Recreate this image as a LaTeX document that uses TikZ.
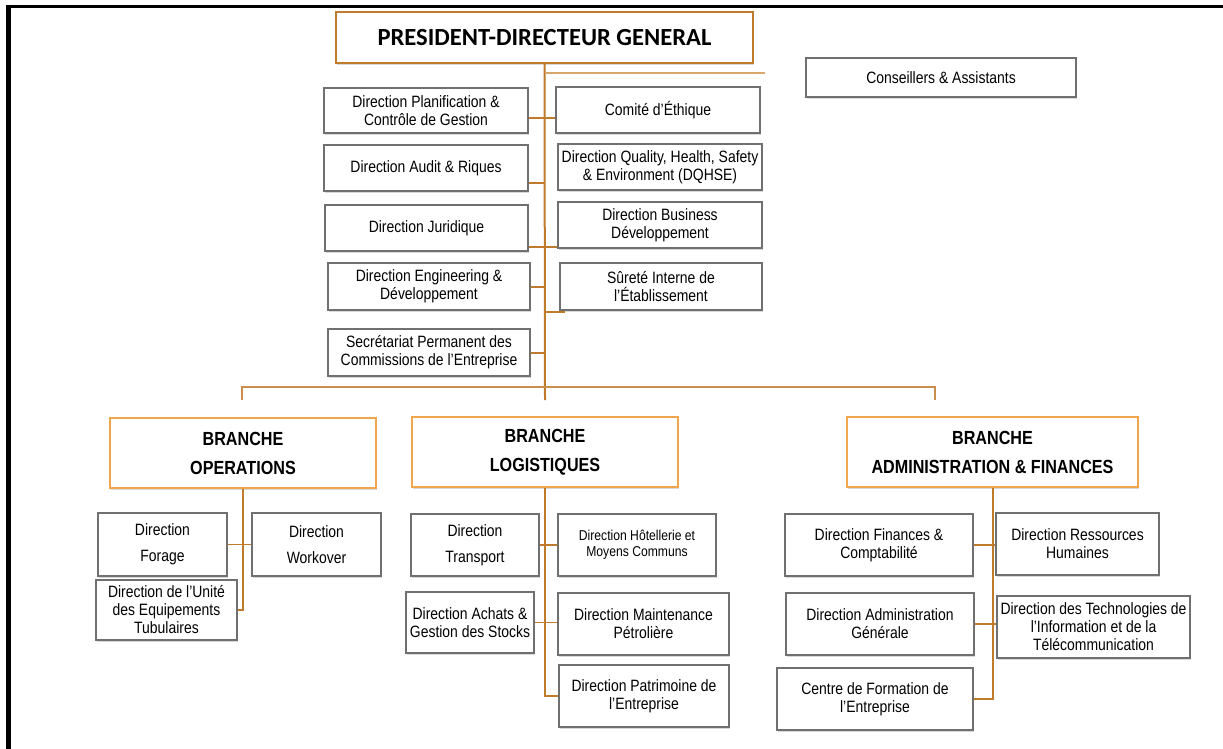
\documentclass[tikz,border=0pt]{standalone}
\usepackage{fontspec}
\setmainfont{Liberation Sans}[FakeStretch=0.85]
\newfontfamily\titlefont{Carlito}
\usetikzlibrary{shadows}
\definecolor{trunkor}{HTML}{C07A2C}
\definecolor{branchor}{HTML}{F0A64C}
\definecolor{paleor}{HTML}{D9A66C}
\definecolor{boxgray}{HTML}{707070}

\begin{document}
\begin{tikzpicture}[x=1pt,y=-1pt,
    softshadow/.style={drop shadow={shadow xshift=1.2pt,shadow yshift=-1.6pt,opacity=0.3}},
    dirbox/.style={draw=boxgray,line width=1.2pt,fill=white,align=center,inner sep=1pt,
      font=\fontsize{16.4}{18}\selectfont,softshadow},
    branchbox/.style={draw=branchor,line width=1.5pt,fill=white,align=center,
      minimum width=#1,minimum height=70pt,font=\bfseries\fontsize{19}{29}\selectfont,softshadow},
    pdgbox/.style={draw=trunkor,line width=1.5pt,fill=white,minimum width=417pt,minimum height=51pt,
      font=\titlefont\bfseries\fontsize{24.6}{28}\selectfont,softshadow},
    sz/.style 2 args={minimum width=#1,minimum height=#2},
    link/.style={draw=trunkor,line width=1.3pt},
    trunk/.style={draw=trunkor,line width=2pt},
    bar/.style={draw=trunkor!85,line width=1.4pt},
  ]
  \useasboundingbox (0,0) rectangle (1223,749);
  \draw[line width=3pt] (8.5,6.5) -- (1223,6.5);
  \draw[line width=4.5pt] (8.5,5) -- (8.5,749);

  \node[pdgbox] (pdg) at (544.5,37.5) {PRESIDENT-DIRECTEUR GENERAL};
  \node[dirbox,sz={270pt}{39pt}] (cons) at (941,77.5) {Conseillers \& Assistants};

  \node[dirbox,sz={204pt}{45pt}] (plan) at (426,110.5) {Direction Planification \&\\Contrôle de Gestion};
  \node[dirbox,sz={204pt}{46pt}] (audit) at (426,168) {Direction Audit \& Riques};
  \node[dirbox,sz={203pt}{46pt}] (jurid) at (426.5,228) {Direction Juridique};
  \node[dirbox,sz={202pt}{47pt}] (engin) at (429,286.5) {Direction Engineering \&\\Développement};
  \node[dirbox,sz={202pt}{47pt}] (secret) at (429,352.5) {Secrétariat Permanent des\\Commissions de l’Entreprise};
  \node[dirbox,sz={204pt}{46pt}] (comite) at (658,110) {Comité d’Éthique};
  \node[dirbox,sz={204pt}{46pt}] (dqhse) at (660,167) {Direction Quality, Health, Safety\\\& Environment (DQHSE)};
  \node[dirbox,sz={204pt}{46pt}] (busin) at (660,225) {Direction Business\\Développement};
  \node[dirbox,sz={202pt}{47pt}] (surete) at (661,286.5) {Sûreté Interne de\\l’Établissement};

  \node[branchbox=266pt] (bops) at (243,453) {BRANCHE\\OPERATIONS};
  \node[branchbox=266pt] (blog) at (545,452) {BRANCHE\\LOGISTIQUES};
  \node[branchbox=291pt] (badm) at (992.5,452) {BRANCHE\\ADMINISTRATION \& FINANCES};

  \node[dirbox,sz={129pt}{63pt},font=\fontsize{16.4}{26}\selectfont] (forage) at (162.5,544.5) {Direction\\Forage};
  \node[dirbox,sz={129pt}{63pt},font=\fontsize{16.4}{26}\selectfont] (workover) at (316.5,544.5) {Direction\\Workover};
  \node[dirbox,sz={141pt}{60pt}] (tubul) at (166.5,610) {Direction de l’Unité\\des Equipements\\Tubulaires};

  \node[dirbox,sz={128pt}{62pt},font=\fontsize{16.4}{26}\selectfont] (transport) at (475,545) {Direction\\Transport};
  \node[dirbox,sz={158pt}{62pt},font=\fontsize{14.3}{16}\selectfont] (hotel) at (637,545) {Direction Hôtellerie et\\Moyens Communs};
  \node[dirbox,sz={128pt}{61pt}] (achats) at (470,622.5) {Direction Achats \&\\Gestion des Stocks};
  \node[dirbox,sz={171pt}{62pt}] (maint) at (643.5,624) {Direction Maintenance\\Pétrolière};
  \node[dirbox,sz={170pt}{62pt}] (patri) at (644,696) {Direction Patrimoine de\\l’Entreprise};

  \node[dirbox,sz={188pt}{62pt}] (finan) at (879,545) {Direction Finances \&\\Comptabilité};
  \node[dirbox,sz={163pt}{62pt}] (rh) at (1077.5,544) {Direction Ressources\\Humaines};
  \node[dirbox,sz={188pt}{62pt}] (admgen) at (880,624) {Direction Administration\\Générale};
  \node[dirbox,sz={193pt}{62pt}] (techno) at (1093.5,627) {Direction des Technologies de\\l’Information et de la\\Télécommunication};
  \node[dirbox,sz={196pt}{62pt}] (centre) at (875,699) {Centre de Formation de\\l’Entreprise};

  \coordinate (k0) at (545,73);
  \coordinate (consend) at (765,73);
  \coordinate (k1) at (545,118);
  \coordinate (k2) at (545,183);
  \coordinate (k3) at (545,247);
  \coordinate (k4) at (545,287);
  \coordinate (k6) at (545,312);
  \coordinate (k5) at (545,353);
  \coordinate (hub) at (545,387);
  \coordinate (dropops) at (242,400);
  \coordinate (droplog) at (545,400);
  \coordinate (dropadm) at (935,400);

  \draw[trunk] (pdg.south) -- (droplog);
  \draw[paleor,line width=1.4pt] (k0) -- (consend);
  \draw[link] (plan.east |- k1) -- (comite.west |- k1);
  \draw[link] (audit.east |- k2) -- (k2);
  \draw[link] (jurid.east |- k3) -- (busin.west |- k3);
  \draw[link] (engin.east |- k4) -- (k4);
  \draw[link] (k6) -- ([xshift=6pt]surete.west |- k6);
  \draw[link] (secret.east |- k5) -- (k5);
  \draw[bar] (dropops) -- (dropops |- hub) -- (dropadm |- hub) -- (dropadm);

  \draw[trunk] (bops.south) |- (tubul.east);
  \draw[link] (forage.east) -- (workover.west);
  \draw[trunk] (blog.south) |- (patri.west);
  \draw[link] (transport.east) -- (transport.east -| hotel.west);
  \draw[link] (achats.east) -- (achats.east -| maint.west);
  \draw[trunk] (badm.south) |- (centre.east);
  \draw[link] (finan.east) -- (finan.east -| rh.west);
  \draw[link] (admgen.east) -- (admgen.east -| techno.west);
\end{tikzpicture}
\end{document}
